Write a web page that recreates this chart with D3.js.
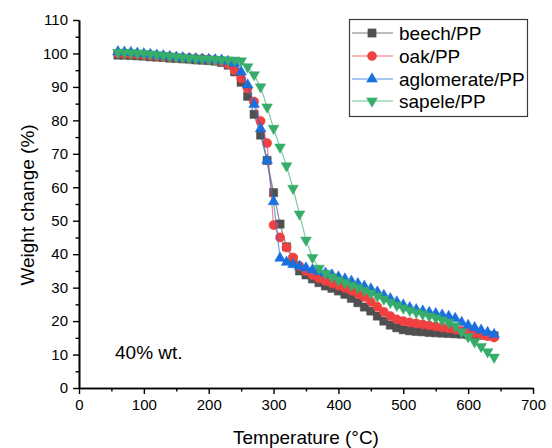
<!DOCTYPE html>
<html>
<head>
<meta charset="utf-8">
<script src="https://cdn.jsdelivr.net/npm/d3@7"></script>
<style>
  html, body { margin: 0; padding: 0; background: #fff; }
  svg { display: block; font-family: "Liberation Sans", Arial, sans-serif; }
</style>
</head>
<body>
<svg id="chart" width="552" height="448"></svg>
<script>
const temps = [60,70,80,90,100,110,120,130,140,150,160,170,180,190,200,210,220,230,240,250,260,270,280,290,300,310,320,330,340,350,360,370,380,390,400,410,420,430,440,450,460,470,480,490,500,510,520,530,540,550,560,570,580,590,600,610,620,630,640];

const beech = [99.5,99.5,99.4,99.3,99.2,99.0,98.9,98.8,98.6,98.5,98.4,98.3,98.1,98.0,97.9,97.7,97.3,96.5,94.5,91.4,87.2,81.8,75.6,68.0,58.4,49.0,42.2,38.5,35.0,33.8,32.6,31.5,30.5,29.8,29.0,28.0,26.8,25.5,24.2,23.0,21.5,20.0,18.8,18.0,17.4,17.1,16.9,16.8,16.6,16.5,16.4,16.3,16.2,16.1,16.0,15.9,15.8,15.7,15.6];

const oak = [100.0,99.9,99.8,99.7,99.5,99.4,99.2,99.1,99.0,98.8,98.7,98.6,98.5,98.4,98.2,98.0,97.6,96.8,95.0,92.6,89.5,85.6,79.8,73.2,48.7,45.0,42.0,39.0,36.5,35.0,33.8,32.8,32.0,31.3,30.6,29.9,29.1,28.2,27.2,25.8,24.3,22.8,21.5,20.5,20.0,19.6,19.3,19.0,18.7,18.4,18.1,17.8,17.5,17.1,16.7,16.3,15.9,15.5,15.1];

const aglomerate = [100.5,100.4,100.3,100.1,99.9,99.7,99.5,99.3,99.1,98.9,98.7,98.5,98.4,98.3,98.2,98.1,98.0,97.6,97.0,94.5,90.6,84.8,77.5,68.0,55.7,38.8,37.6,36.9,36.4,35.9,35.3,34.8,34.3,33.8,33.2,32.6,31.9,31.2,30.4,29.6,28.7,27.7,26.7,25.7,24.8,24.0,23.4,23.0,22.6,22.2,21.8,21.4,20.8,19.6,18.7,18.0,17.3,16.6,16.0];

const sapele = [100.3,100.3,100.2,100.1,100.0,99.8,99.6,99.4,99.2,99.0,98.8,98.6,98.5,98.4,98.3,98.2,98.1,98.0,98.0,97.8,96.0,93.6,90.0,84.0,77.6,72.0,66.4,59.7,52.0,44.2,39.0,35.8,34.3,33.2,32.3,31.5,30.7,30.0,29.2,28.4,27.5,26.6,25.6,24.7,23.9,23.2,22.6,22.1,21.5,21.0,20.3,19.6,18.6,16.8,15.3,13.8,12.4,10.8,9.2];

const seriesNames = ["beech/PP","oak/PP","aglomerate/PP","sapele/PP"];
const seriesValues = [beech, oak, aglomerate, sapele];
const seriesColors = ["#505050","#f14040","#1a6fdf","#37ad6b"];
const seriesShapes = ["square","circle","triangle","triangleDown"];

const xTicks = [0,100,200,300,400,500,600,700];
const xMinor = [50,150,250,350,450,550,650];
const yTicks = [0,10,20,30,40,50,60,70,80,90,100,110];
const yMinor = [5,15,25,35,45,55,65,75,85,95,105];

const xTitle = "Temperature (°C)";
const yTitle = "Weight change (%)";
const note = "40% wt.";

const svg = d3.select("#chart");
const x = d3.scaleLinear().domain([0,700]).range([79,533]);
const y = d3.scaleLinear().domain([0,110]).range([388,20]);

function symbolPath(shape) {
  if (shape === "square") return d3.symbol().type(d3.symbolSquare).size(68)();
  if (shape === "circle") return d3.symbol().type(d3.symbolCircle).size(66)();
  return d3.symbol().type(d3.symbolTriangle).size(50)();
}
function symbolTransform(shape, px, py) {
  if (shape === "triangleDown") return `translate(${px},${py}) rotate(180)`;
  return `translate(${px},${py})`;
}

// Series
const line = d3.line().x((d,i)=>x(temps[i])).y(d=>y(d));
seriesValues.forEach((vals, si) => {
  const g = svg.append("g");
  g.append("path")
    .datum(vals)
    .attr("d", line)
    .attr("fill","none")
    .attr("stroke", seriesColors[si])
    .attr("stroke-opacity", 0.65)
    .attr("stroke-width", 1.2);
  g.selectAll("path.m")
    .data(vals)
    .enter().append("path")
    .attr("class","m")
    .attr("d", symbolPath(seriesShapes[si]))
    .attr("transform", (d,i)=>symbolTransform(seriesShapes[si], x(temps[i]), y(d)))
    .attr("fill", seriesColors[si])
    .attr("stroke", seriesColors[si])
    .attr("stroke-width", 0.5);
});

// Axes
const xAxis = svg.append("g").attr("transform","translate(0,388)")
  .call(d3.axisBottom(x).tickValues(xTicks).tickSize(6).tickSizeOuter(0).tickPadding(5));
svg.append("g").attr("transform","translate(0,388)")
  .call(d3.axisBottom(x).tickValues(xMinor).tickSize(3.5).tickSizeOuter(0).tickFormat(""));
const yAxis = svg.append("g").attr("transform","translate(79,0)")
  .call(d3.axisLeft(y).tickValues(yTicks).tickSize(6).tickSizeOuter(0).tickPadding(5));
svg.append("g").attr("transform","translate(79,0)")
  .call(d3.axisLeft(y).tickValues(yMinor).tickSize(3.5).tickSizeOuter(0).tickFormat(""));

svg.selectAll(".domain").attr("stroke","#000").attr("stroke-width",1.6);
svg.selectAll(".tick line").attr("stroke","#000").attr("stroke-width",1.4);
svg.selectAll(".tick text").attr("font-size","15px").attr("fill","#000")
  .attr("font-family",'"Liberation Sans", Arial, sans-serif');

// Titles
svg.append("text").attr("x",306).attr("y",444)
  .attr("text-anchor","middle").attr("font-size","19px").attr("fill","#000")
  .text(xTitle);
svg.append("text").attr("transform","translate(34,205) rotate(-90)")
  .attr("text-anchor","middle").attr("font-size","19px").attr("fill","#000")
  .text(yTitle);
svg.append("text").attr("x",115).attr("y",359)
  .attr("font-size","19px").attr("fill","#000")
  .text(note);

// Legend
const lg = svg.append("g");
lg.append("rect").attr("x",349.5).attr("y",19.5).attr("width",178).attr("height",97)
  .attr("fill","#fff").attr("stroke","#3c3c3c").attr("stroke-width",1.2);
const legendY = [33,56,79,101];
seriesNames.forEach((name, si) => {
  const cy = legendY[si];
  lg.append("line").attr("x1",352).attr("x2",393).attr("y1",cy).attr("y2",cy)
    .attr("stroke", seriesColors[si]).attr("stroke-opacity",0.75).attr("stroke-width",1.2);
  lg.append("path").attr("d", symbolPath(seriesShapes[si]))
    .attr("transform", symbolTransform(seriesShapes[si], 372, cy))
    .attr("fill", seriesColors[si]).attr("stroke", seriesColors[si]).attr("stroke-width",0.5);
  lg.append("text").attr("x",399).attr("y",cy+6.5)
    .attr("font-size","19px").attr("fill","#000").text(name);
});
</script>
</body>
</html>
